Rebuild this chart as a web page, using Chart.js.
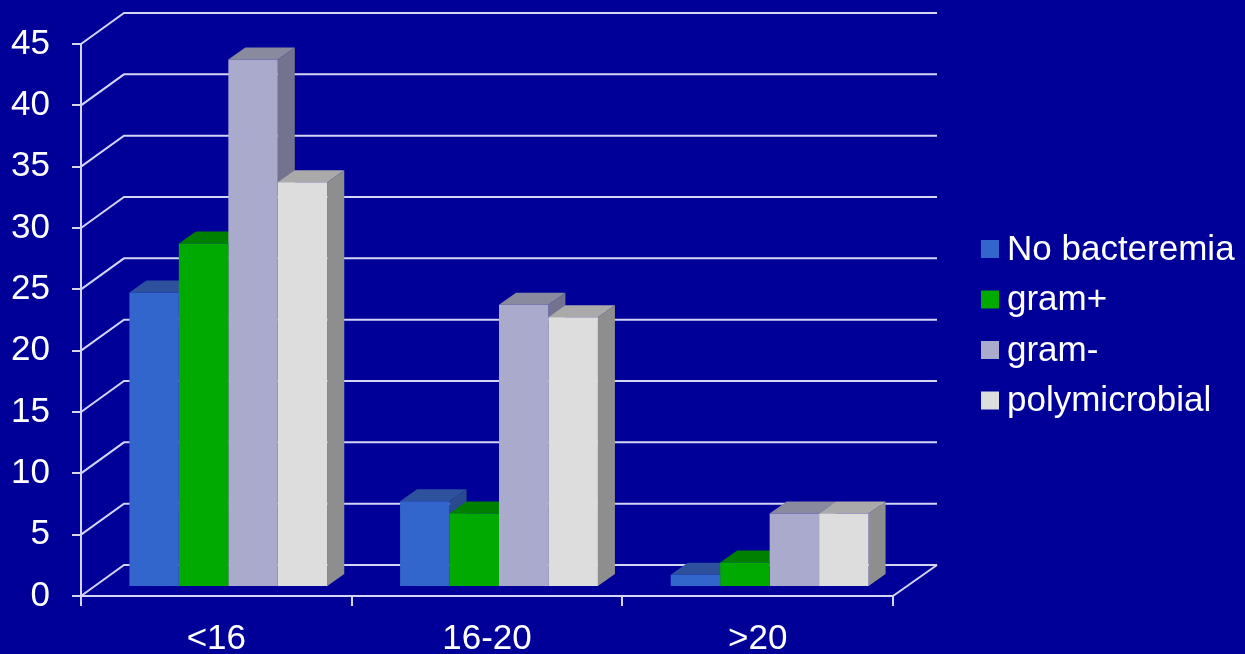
<!DOCTYPE html>
<html>
<head>
<meta charset="utf-8">
<script src="https://cdn.jsdelivr.net/npm/chart.js@4/dist/chart.umd.min.js"></script>
<style>
  html, body { margin: 0; padding: 0; background: #000099; }
  #wrap { width: 1245px; height: 654px; }
</style>
</head>
<body>
<div id="wrap"><canvas id="bactChart"></canvas></div>
<script>
// categories and series
var ageGroups = ['<16', '16-20', '>20'];
var noBacteremia = [24, 7, 1];
var gramPos = [28, 6, 2];
var gramNeg = [43, 23, 6];
var polymicrobial = [33, 22, 6];
var yTicks = [0, 5, 10, 15, 20, 25, 30, 35, 40, 45];

var FONT = '"Liberation Sans", Arial, sans-serif';
var GRID = '#d4d4f4';

// front / top / side colours for each series
var faces = [
    { front: '#3366cc', top: '#2d519c', side: '#2a4a90' },
    { front: '#00aa00', top: '#008000', side: '#007000' },
    { front: '#aaaacc', top: '#8a8a9e', side: '#737390' },
    { front: '#dddddd', top: '#aaaaaa', side: '#8e8e8e' }
];

// depth offsets: the whole box, where the bars stand, and the bar thickness
var wallDx = 43, wallDy = -31;
var barShiftX = 12, barShiftY = -9;
var barDx = 17, barDy = -12;

var box3d = {
    id: 'box3d',
    beforeDatasetsDraw: function(chart) {
        var ctx = chart.ctx;
        var xs = chart.scales.x, ys = chart.scales.y;
        var left = xs.left, right = xs.right;
        var bottom = ys.getPixelForValue(0);

        // back wall gridlines with their diagonals to the front axis
        ctx.save();
        ctx.strokeStyle = GRID;
        ctx.lineWidth = 2;
        yTicks.forEach(function(v) {
            var py = ys.getPixelForValue(v);
            ctx.beginPath();
            ctx.moveTo(left, py);
            ctx.lineTo(left + wallDx, py + wallDy);
            ctx.lineTo(right + wallDx + 1, py + wallDy);
            ctx.stroke();
        });
        // right edge of the floor
        ctx.beginPath();
        ctx.moveTo(right, bottom);
        ctx.lineTo(right + wallDx + 1, bottom + wallDy);
        ctx.stroke();
        ctx.restore();

        // side and top faces, then the library draws the fronts on top
        ctx.save();
        ctx.translate(barShiftX, barShiftY);
        for (var i = 0; i < ageGroups.length; i++) {
            chart.data.datasets.forEach(function(ds, d) {
                var bar = chart.getDatasetMeta(d).data[i];
                var p = bar.getProps(['x', 'y', 'base', 'width'], true);
                var x0 = p.x - p.width / 2, x1 = p.x + p.width / 2;
                var f = faces[d];
                ctx.fillStyle = f.side;
                ctx.beginPath();
                ctx.moveTo(x1, p.y);
                ctx.lineTo(x1 + barDx, p.y + barDy);
                ctx.lineTo(x1 + barDx, p.base + barDy);
                ctx.lineTo(x1, p.base);
                ctx.closePath();
                ctx.fill();
                ctx.fillStyle = f.top;
                ctx.beginPath();
                ctx.moveTo(x0, p.y);
                ctx.lineTo(x0 + barDx, p.y + barDy);
                ctx.lineTo(x1 + barDx, p.y + barDy);
                ctx.lineTo(x1, p.y);
                ctx.closePath();
                ctx.fill();
            });
        }
    },
    afterDatasetsDraw: function(chart) {
        chart.ctx.restore();
    },
    afterDraw: function(chart) {
        // legend on the right
        var ctx = chart.ctx;
        ctx.save();
        ctx.font = '35px ' + FONT;
        ctx.textBaseline = 'middle';
        chart.data.datasets.forEach(function(ds, d) {
            var cy = 249 + d * 50.5;
            ctx.fillStyle = faces[d].front;
            ctx.fillRect(981, cy - 9, 18, 18);
            ctx.fillStyle = '#ffffff';
            ctx.fillText(ds.label, 1007, cy + 1);
        });
        ctx.restore();
    }
};

var ctx = document.getElementById('bactChart').getContext('2d');
var bactChart = new Chart(ctx, {
    type: 'bar',
    data: {
        labels: ageGroups,
        datasets: [
            { label: 'No bacteremia', data: noBacteremia, backgroundColor: faces[0].front },
            { label: 'gram+', data: gramPos, backgroundColor: faces[1].front },
            { label: 'gram-', data: gramNeg, backgroundColor: faces[2].front },
            { label: 'polymicrobial', data: polymicrobial, backgroundColor: faces[3].front }
        ]
    },
    options: {
        responsive: true,
        maintainAspectRatio: false,
        animation: false,
        events: [],
        clip: false,
        categoryPercentage: 0.731,
        barPercentage: 1.0,
        layout: { padding: { top: 44, right: 352, left: 0, bottom: 0 } },
        plugins: {
            legend: { display: false },
            tooltip: { enabled: false }
        },
        scales: {
            x: {
                afterFit: function(scale) { scale.height = 58; },
                grid: { drawOnChartArea: false, tickLength: 10, color: GRID, lineWidth: 2 },
                border: { color: GRID, width: 2 },
                ticks: { color: '#ffffff', font: { family: FONT, size: 35 }, padding: 12 }
            },
            y: {
                min: 0,
                max: 45,
                afterFit: function(scale) { scale.width = 81; },
                afterBuildTicks: function(scale) {
                    scale.ticks = yTicks.map(function(v) { return { value: v }; });
                },
                grid: { drawOnChartArea: false, tickLength: 9, color: GRID, lineWidth: 2 },
                border: { color: GRID, width: 2 },
                ticks: { color: '#ffffff', font: { family: FONT, size: 35 }, padding: 22 }
            }
        }
    },
    plugins: [box3d]
});
</script>
</body>
</html>
